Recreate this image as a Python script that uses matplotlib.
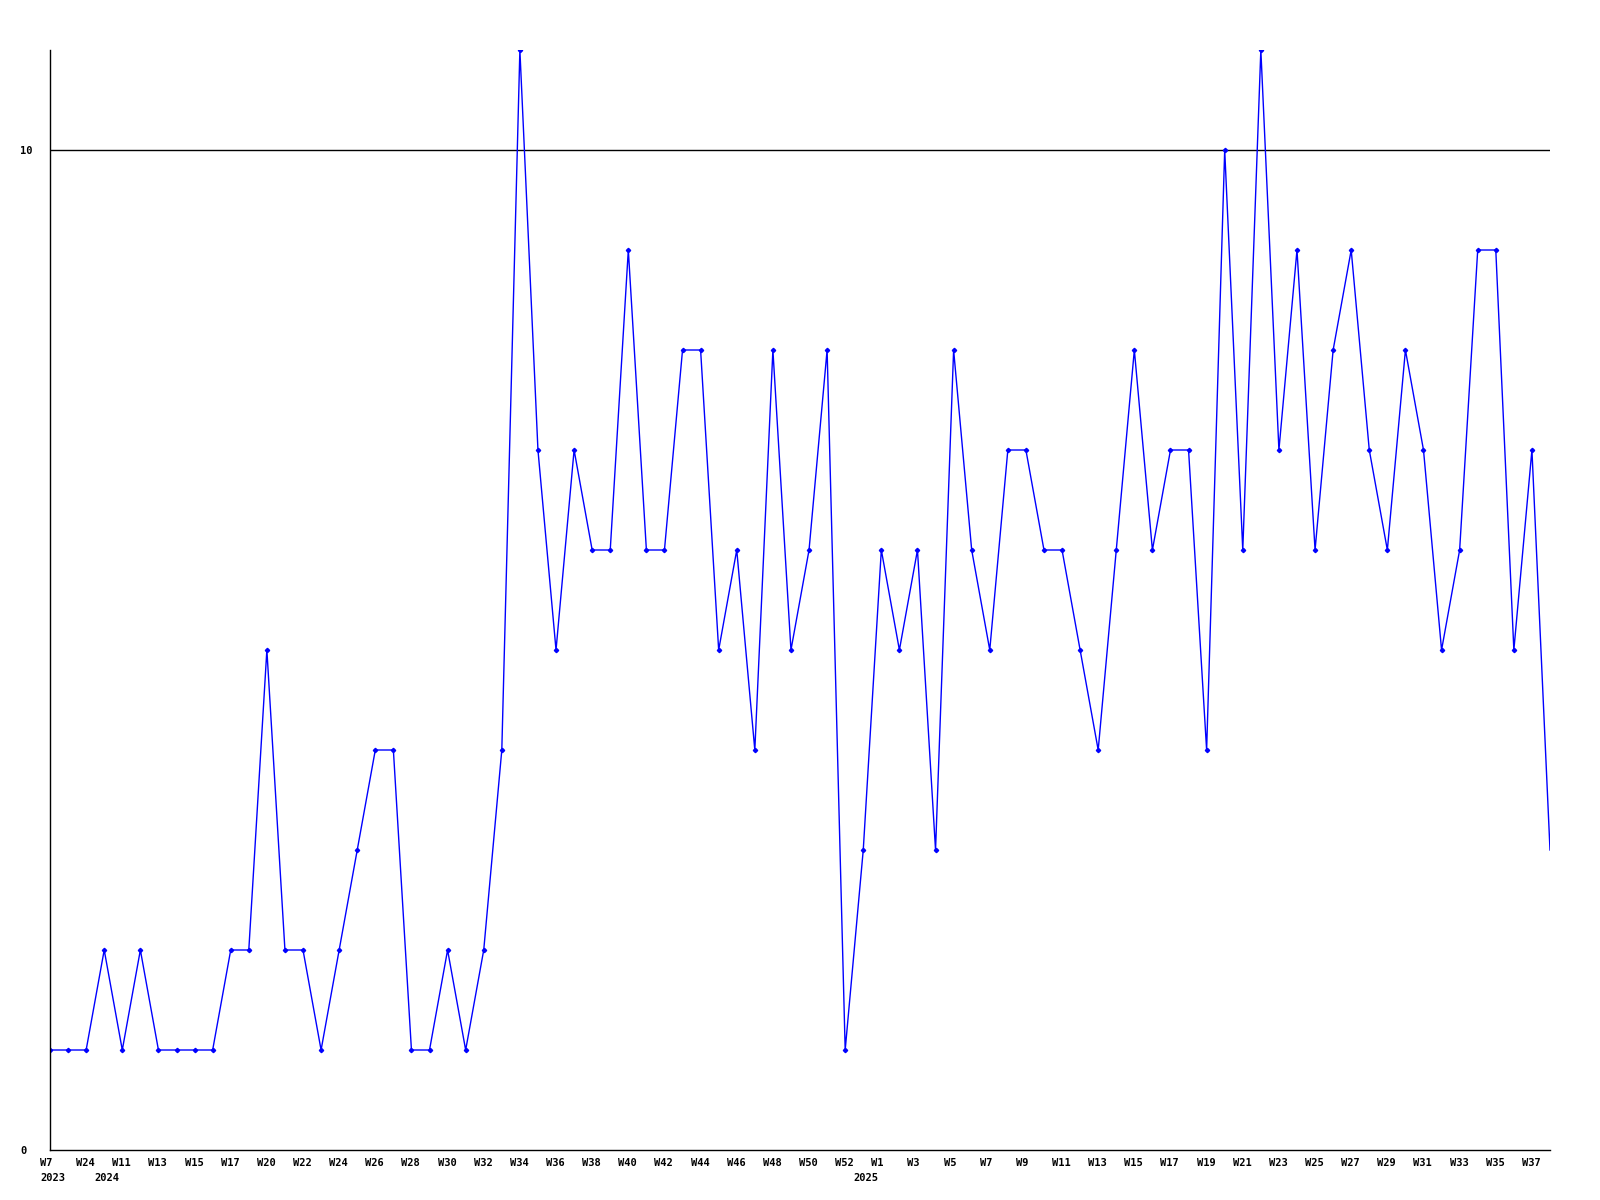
import numpy as np
import matplotlib
matplotlib.use('Agg')
import matplotlib.pyplot as plt
from matplotlib.transforms import ScaledTranslation, blended_transform_factory

# weekly counts, one per data point (84 points)
values = [1, 1, 1, 2, 1, 2, 1, 1, 1, 1,
          2, 2, 5, 2, 2, 1, 2, 3, 4, 4,
          1, 1, 2, 1, 2, 4, 11, 7, 5, 7,
          6, 6, 9, 6, 6, 8, 8, 5, 6, 4,
          8, 5, 6, 8, 1, 3, 6, 5, 6, 3,
          8, 6, 5, 7, 7, 6, 6, 5, 4, 6,
          8, 6, 7, 7, 4, 10, 6, 11, 7, 9,
          6, 8, 9, 7, 6, 8, 7, 5, 6, 9,
          9, 5, 7, 3]

# labels shown on every other point
week_labels = ['W7', 'W24', 'W11', 'W13', 'W15', 'W17', 'W20', 'W22', 'W24', 'W26',
               'W28', 'W30', 'W32', 'W34', 'W36', 'W38', 'W40', 'W42', 'W44', 'W46',
               'W48', 'W50', 'W52', 'W1', 'W3', 'W5', 'W7', 'W9', 'W11', 'W13',
               'W15', 'W17', 'W19', 'W21', 'W23', 'W25', 'W27', 'W29', 'W31', 'W33',
               'W35', 'W37']

year_labels = ['2023', '2024', '2025']
year_start = [0, 3, 45]   # index of first point in each year

y_ticks = [0, 10]

font = dict(family='DejaVu Sans Mono', fontsize=7.5, fontweight='bold', color='black')


def main():
  fig = plt.figure(figsize=(16, 12), dpi=100)
  ax = fig.add_axes([50/1600, 50/1200, 1500/1600, 1100/1200])

  x = np.arange(len(values))
  ax.plot(x, values, color='#0000ff', lw=1.0, marker='D', ms=2.2,
          markevery=list(range(len(values) - 1)))
  ax.axhline(10, color='black', lw=1.0, zorder=1)

  ax.set_xlim(0, len(values) - 1)
  ax.set_ylim(0, 11)

  for side in ['top', 'right']:
    ax.spines[side].set_visible(False)
  for side in ['left', 'bottom']:
    ax.spines[side].set_linewidth(1.0)
    ax.spines[side].set_color('black')

  ax.set_xticks([])
  ax.set_yticks(y_ticks)
  ax.set_yticklabels([str(v) for v in y_ticks], **font)
  ax.tick_params(axis='y', length=0, pad=0)
  shift = ScaledTranslation(-30/100, 0, fig.dpi_scale_trans)
  for lab in ax.get_yticklabels():
    lab.set_ha('left')
    lab.set_transform(lab.get_transform() + shift)

  trans = blended_transform_factory(ax.transData, ax.transAxes)
  off = ScaledTranslation(-10/100, -8/100, fig.dpi_scale_trans)
  for i, lab in enumerate(week_labels):
    ax.text(2*i, 0, lab, ha='left', va='top', transform=trans + off, **font)
  off2 = ScaledTranslation(-10/100, -23/100, fig.dpi_scale_trans)
  for i, lab in zip(year_start, year_labels):
    ax.text(i, 0, lab, ha='left', va='top', transform=trans + off2, **font)

  fig.savefig('out.png', dpi=100)


if __name__ == '__main__':
  main()
